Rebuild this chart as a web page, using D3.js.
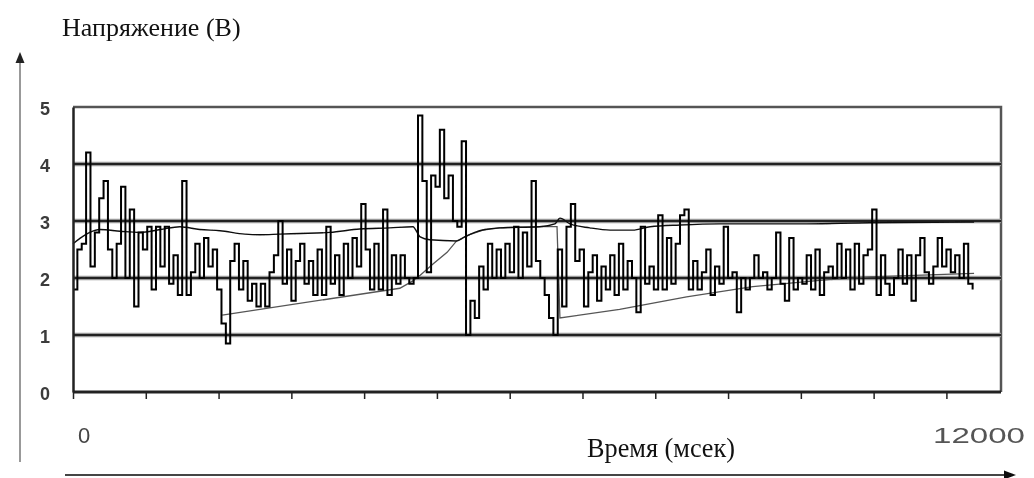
<!DOCTYPE html>
<html>
<head>
<meta charset="utf-8">
<script src="https://cdn.jsdelivr.net/npm/d3@7"></script>
<style>
body { margin: 0; background: #fff; }
svg { display: block; }
</style>
</head>
<body>
<div id="chart"></div>
<script>
// sampled voltage (V), one value every sampleMs
var sampleMs = 60
var signal = [
	1.8, 2.5, 2.6, 4.2, 2.2, 2.8, 3.4, 3.7, 2.5, 2.0,
	2.6, 3.6, 2.0, 3.2, 1.5, 2.8, 2.5, 2.9, 1.8, 2.9,
	2.2, 2.9, 1.9, 2.4, 1.7, 3.7, 1.7, 2.1, 2.6, 2.0,
	2.7, 2.2, 2.5, 1.8, 1.2, 0.85, 2.3, 2.6, 1.8, 2.3,
	1.6, 1.9, 1.5, 1.9, 1.5, 2.1, 2.4, 3.0, 1.9, 2.5,
	1.6, 2.3, 2.6, 1.9, 2.3, 1.7, 2.5, 1.7, 2.9, 1.9,
	2.4, 1.7, 2.6, 2.0, 2.7, 2.2, 3.3, 2.5, 1.8, 2.6,
	1.8, 3.2, 1.7, 2.4, 1.9, 2.4, 2.0, 1.9, 2.0, 4.85,
	3.7, 2.1, 3.8, 3.6, 4.6, 3.4, 3.8, 3.0, 2.9, 4.4,
	1.0, 1.6, 1.3, 2.2, 1.8, 2.6, 2.0, 2.5, 2.0, 2.6,
	2.1, 2.9, 2.0, 2.8, 2.2, 3.7, 2.3, 2.0, 1.7, 1.3,
	1.0, 2.5, 1.5, 2.9, 3.3, 2.3, 2.5, 1.5, 2.1, 2.4,
	1.6, 2.2, 1.8, 2.4, 1.7, 2.6, 1.8, 2.3, 2.0, 1.4,
	2.9, 1.9, 2.2, 1.8, 3.1, 1.8, 2.7, 1.9, 2.6, 3.1,
	3.2, 1.8, 2.3, 1.8, 2.1, 2.5, 1.7, 2.2, 1.9, 2.9,
	2.0, 2.1, 1.4, 2.0, 1.8, 2.0, 2.4, 2.0, 2.1, 1.8,
	2.0, 2.8, 1.9, 1.6, 2.7, 1.8, 2.0, 1.9, 2.4, 1.8,
	2.5, 1.7, 2.1, 2.2, 2.0, 2.6, 2.0, 2.5, 1.8, 2.6,
	1.9, 2.4, 2.5, 3.2, 1.7, 2.4, 1.9, 1.7, 2.0, 2.5,
	1.9, 2.4, 1.6, 2.4, 2.7, 2.1, 1.9, 2.2, 2.7, 2.2,
	2.5, 2.1, 2.4, 2.0, 2.6, 1.9, 1.8
]

// slow upper line
var upperT = [0, 100, 230, 370, 650, 920, 1200, 1470, 1740, 2020, 2360, 2570, 2840, 3120, 3530, 3940, 4350, 4670, 4770, 4900, 5270, 5380, 5520, 5660, 5860, 6410, 6620, 6690, 6830, 7100, 7380, 7690, 7930, 8340, 8890, 9990, 10950, 12380]
var upperV = [2.6, 2.7, 2.8, 2.85, 2.82, 2.8, 2.85, 2.9, 2.85, 2.83, 2.77, 2.76, 2.77, 2.78, 2.8, 2.86, 2.88, 2.9, 2.72, 2.67, 2.65, 2.72, 2.8, 2.85, 2.88, 2.9, 2.95, 3.05, 2.95, 2.88, 2.84, 2.84, 2.9, 2.93, 2.95, 2.95, 2.97, 2.98]

// lower ramp line
var lowerT = [2050, 4490, 4670, 4770, 4950, 5140, 5270, 5450, 5630, 5860, 6410, 6650, 6690, 7510, 8430, 9340, 10260, 10950, 12380]
var lowerV = [1.35, 1.82, 1.95, 2.05, 2.25, 2.45, 2.65, 2.76, 2.84, 2.88, 2.9, 2.9, 1.3, 1.45, 1.67, 1.85, 1.96, 2.02, 2.08]

var yTicks = [0, 1, 2, 3, 4, 5]
var gridValues = [1, 2, 3, 4]
var xTicks = d3.range(0, 12001, 1000)
var xDomain = [0, 12750]

var width = 1034, height = 478
var plotL = 73, plotR = 1001, plotT = 107, plotB = 392

var svg = d3.select('#chart').append('svg')
	.attr('width', width).attr('height', height)

var defs = svg.append('defs')
defs.append('filter').attr('id', 'soft')
	.append('feGaussianBlur').attr('stdDeviation', 0.55)

var x = d3.scaleLinear().domain(xDomain).range([plotL, plotR])
var y = d3.scaleLinear().domain([0, 5]).range([plotB, plotT])

var chart = svg.append('g').attr('filter', 'url(#soft)')

// frame
chart.append('path')
	.attr('d', 'M' + plotL + ',' + y(5) + 'H' + plotR + 'V' + plotB)
	.attr('fill', 'none').attr('stroke', '#555').attr('stroke-width', 2.5)

// grid lines
gridValues.forEach(function (v) {
	chart.append('line').attr('x1', plotL).attr('x2', plotR)
		.attr('y1', y(v)).attr('y2', y(v))
		.attr('stroke', '#999').attr('stroke-width', 4.5)
	chart.append('line').attr('x1', plotL).attr('x2', plotR)
		.attr('y1', y(v)).attr('y2', y(v))
		.attr('stroke', '#222').attr('stroke-width', 2)
})

// series
var line = d3.line().x(function (d) { return x(d[0]) }).y(function (d) { return y(d[1]) })

var lowerPts = lowerT.map(function (t, i) { return [t, lowerV[i]] })
chart.append('path').datum(lowerPts)
	.attr('d', line).attr('fill', 'none')
	.attr('stroke', '#555').attr('stroke-width', 1.3)

var upperPts = upperT.map(function (t, i) { return [t, upperV[i]] })
chart.append('path').datum(upperPts)
	.attr('d', line.curve(d3.curveMonotoneX)).attr('fill', 'none')
	.attr('stroke', '#111').attr('stroke-width', 1.4)

var sigPts = signal.map(function (v, i) { return [i * sampleMs, v] })
chart.append('path').datum(sigPts)
	.attr('d', d3.line().curve(d3.curveStepAfter)
		.x(function (d) { return x(d[0]) }).y(function (d) { return y(d[1]) }))
	.attr('fill', 'none').attr('stroke', '#000').attr('stroke-width', 2)

// axes
var xAxis = chart.append('g').attr('transform', 'translate(0,' + plotB + ')')
	.call(d3.axisBottom(x).tickValues(xTicks).tickSize(7).tickFormat(''))
xAxis.select('.domain').attr('stroke', '#222').attr('stroke-width', 3)
	.attr('d', 'M' + plotL + ',0H' + plotR)
xAxis.selectAll('.tick line').attr('stroke', '#222').attr('stroke-width', 1.5)

var yAxis = chart.append('g').attr('transform', 'translate(' + plotL + ',0)')
	.call(d3.axisLeft(y).tickValues(yTicks).tickSize(0).tickPadding(20).tickFormat(d3.format('d')))
yAxis.select('.domain').attr('stroke', '#222').attr('stroke-width', 2.5)
yAxis.selectAll('.tick text')
	.attr('font-family', 'Liberation Sans, Arial, sans-serif')
	.attr('font-size', 18).attr('font-weight', 'bold')
	.attr('fill', '#3a3a3a').attr('text-anchor', 'middle')
	.attr('dx', -8).attr('dy', '0.42em')

// x labels
chart.append('text').text('0')
	.attr('x', x(0) + 5).attr('y', 443)
	.attr('font-family', 'Liberation Sans, Arial, sans-serif')
	.attr('font-size', 22).attr('fill', '#444')
chart.append('text').text('12000')
	.attr('x', 933).attr('y', 443)
	.attr('textLength', 92).attr('lengthAdjust', 'spacingAndGlyphs')
	.attr('font-family', 'Liberation Sans, Arial, sans-serif')
	.attr('font-size', 22).attr('fill', '#555')

// outer arrows
chart.append('line').attr('x1', 20).attr('x2', 20).attr('y1', 462).attr('y2', 60)
	.attr('stroke', '#999').attr('stroke-width', 2)
chart.append('path').attr('d', 'M20,52L15.5,63H24.5Z').attr('fill', '#222')

chart.append('line').attr('x1', 65).attr('x2', 1006).attr('y1', 475).attr('y2', 475)
	.attr('stroke', '#444').attr('stroke-width', 2)
chart.append('path').attr('d', 'M1016,475L1004,470.5V479.5Z').attr('fill', '#111')

// titles
svg.append('text').text('Напряжение (В)')
	.attr('x', 62).attr('y', 36)
	.attr('font-family', 'Liberation Serif, Times New Roman, serif')
	.attr('font-size', 26).attr('fill', '#111')
svg.append('text').text('Время (мсек)')
	.attr('x', 587).attr('y', 457)
	.attr('textLength', 148).attr('lengthAdjust', 'spacingAndGlyphs')
	.attr('font-family', 'Liberation Serif, Times New Roman, serif')
	.attr('font-size', 27).attr('fill', '#111')
</script>
</body>
</html>
